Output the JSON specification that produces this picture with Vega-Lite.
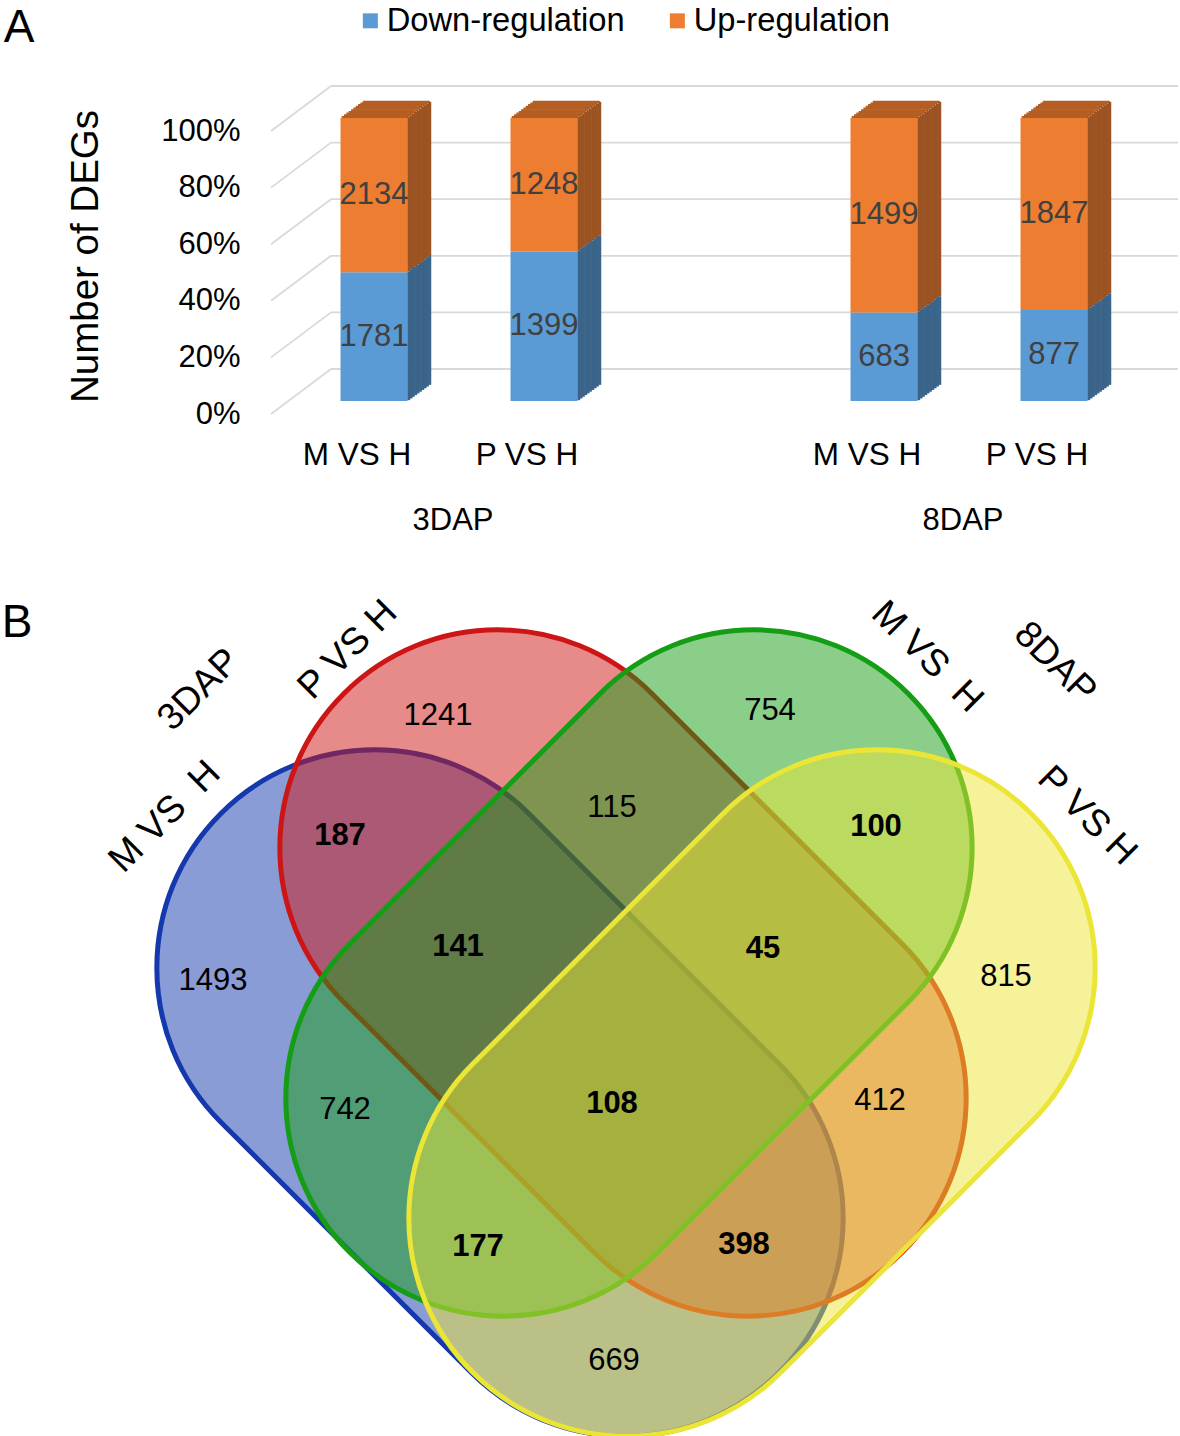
{
  "$schema": "https://vega.github.io/schema/vega-lite/v6.json",
  "width": 1180,
  "height": 1436,
  "padding": 0,
  "autosize": {"type": "pad"},
  "background": "white",
  "config": {"view": {"stroke": null}, "font": "Liberation Sans"},
  "projection": {"type": "identity", "reflectY": true, "scale": 10, "translate": [626, 973]},
  "datasets": {
    "bars": [
      {"stage": "3DAP", "comp": "M VS H", "key": "3DAP|M VS H", "dir": "Down-regulation", "count": 1781},
      {"stage": "3DAP", "comp": "M VS H", "key": "3DAP|M VS H", "dir": "Up-regulation", "count": 2134},
      {"stage": "3DAP", "comp": "P VS H", "key": "3DAP|P VS H", "dir": "Down-regulation", "count": 1399},
      {"stage": "3DAP", "comp": "P VS H", "key": "3DAP|P VS H", "dir": "Up-regulation", "count": 1248},
      {"stage": "8DAP", "comp": "M VS H", "key": "8DAP|M VS H", "dir": "Down-regulation", "count": 683},
      {"stage": "8DAP", "comp": "M VS H", "key": "8DAP|M VS H", "dir": "Up-regulation", "count": 1499},
      {"stage": "8DAP", "comp": "P VS H", "key": "8DAP|P VS H", "dir": "Down-regulation", "count": 877},
      {"stage": "8DAP", "comp": "P VS H", "key": "8DAP|P VS H", "dir": "Up-regulation", "count": 1847}
    ],
    "ticks": [{"v": 0}, {"v": 0.2}, {"v": 0.4}, {"v": 0.6}, {"v": 0.8}, {"v": 1}],
    "sets": [
      {"set": "M3", "stage": "3DAP", "comp": "M VS H", "cx": -12.6, "cy": -12.0},
      {"set": "P3", "stage": "3DAP", "comp": "P VS H", "cx": -0.3, "cy": 0},
      {"set": "M8", "stage": "8DAP", "comp": "M VS H", "cx": 0.3, "cy": 0},
      {"set": "P8", "stage": "8DAP", "comp": "P VS H", "cx": 12.6, "cy": -12.0}
    ],
    "regions": [
      {"n": 1241, "sets": "P3", "x": -18.8, "y": 25.7},
      {"n": 754, "sets": "M8", "x": 14.4, "y": 26.2},
      {"n": 115, "sets": "P3,M8", "x": -1.4, "y": 16.5},
      {"n": 187, "sets": "M3,P3", "x": -28.6, "y": 13.7},
      {"n": 100, "sets": "M8,P8", "x": 25.0, "y": 14.6},
      {"n": 141, "sets": "M3,P3,M8", "x": -16.8, "y": 2.6},
      {"n": 45, "sets": "P3,M8,P8", "x": 13.7, "y": 2.4},
      {"n": 1493, "sets": "M3", "x": -41.3, "y": -0.8},
      {"n": 815, "sets": "P8", "x": 38.0, "y": -0.4},
      {"n": 742, "sets": "M3,M8", "x": -28.1, "y": -13.7},
      {"n": 108, "sets": "M3,P3,M8,P8", "x": -1.4, "y": -13.1},
      {"n": 412, "sets": "P3,P8", "x": 25.4, "y": -12.8},
      {"n": 177, "sets": "M3,M8,P8", "x": -14.8, "y": -27.4},
      {"n": 398, "sets": "M3,P3,P8", "x": 11.8, "y": -27.2},
      {"n": 669, "sets": "M3,P8", "x": -1.2, "y": -38.8}
    ],
    "setlabels": [
      {"label": "M VS\u00a0 H", "stage": "3DAP", "x": -46.1, "y": 15.6},
      {"label": "3DAP", "stage": "3DAP", "x": -42.7, "y": 28.3},
      {"label": "P VS H", "stage": "3DAP", "x": -27.8, "y": 32.3},
      {"label": "M VS\u00a0 H", "stage": "8DAP", "x": 30.1, "y": 31.6},
      {"label": "8DAP", "stage": "8DAP", "x": 42.9, "y": 31.0},
      {"label": "P VS H", "stage": "8DAP", "x": 46.1, "y": 15.7}
    ],
    "panels": [
      {"panel": "A", "x": -60.7, "y": 93.1},
      {"panel": "B", "x": -60.9, "y": 33.6}
    ]
  },
  "layer": [
    {"data": {"name": "ticks"}, "mark": {"type": "rule", "color": "#D9D9D9", "strokeWidth": 1.8, "xOffset": 42, "x2Offset": 39, "yOffset": -32},
     "encoding": {"x": {"datum": "3DAP|M VS H", "type": "nominal", "bandPosition": 0}, "x2": {"datum": "8DAP|P VS H", "bandPosition": 1}, "y": {"field": "v", "type": "quantitative"}}},
    {"data": {"name": "ticks"}, "mark": {"type": "rule", "color": "#D9D9D9", "strokeWidth": 1.8, "xOffset": -18, "x2Offset": 42, "yOffset": 13, "y2Offset": -32},
     "encoding": {"x": {"datum": "3DAP|M VS H", "type": "nominal", "bandPosition": 0}, "x2": {"datum": "3DAP|M VS H", "bandPosition": 0}, "y": {"field": "v", "type": "quantitative"}, "y2": {"field": "v"}}},

    {"data": {"name": "bars"}, "transform": [{"filter": "datum.dir == 'Up-regulation'"}], "mark": {"type": "bar", "width": 67, "color": "#B45E24", "xOffset": 1.17, "yOffset": -2.0, "y2Offset": 0.3}, "encoding": {"x": {"field": "key", "type": "nominal"}, "y": {"datum": 1, "type": "quantitative"}, "y2": {"datum": 1}}},
    {"data": {"name": "bars"}, "transform": [{"filter": "datum.dir == 'Up-regulation'"}], "mark": {"type": "bar", "width": 67, "color": "#B45E24", "xOffset": 3.51, "yOffset": -3.7, "y2Offset": -1.4}, "encoding": {"x": {"field": "key", "type": "nominal"}, "y": {"datum": 1, "type": "quantitative"}, "y2": {"datum": 1}}},
    {"data": {"name": "bars"}, "transform": [{"filter": "datum.dir == 'Up-regulation'"}], "mark": {"type": "bar", "width": 67, "color": "#B45E24", "xOffset": 5.85, "yOffset": -5.4, "y2Offset": -3.1}, "encoding": {"x": {"field": "key", "type": "nominal"}, "y": {"datum": 1, "type": "quantitative"}, "y2": {"datum": 1}}},
    {"data": {"name": "bars"}, "transform": [{"filter": "datum.dir == 'Up-regulation'"}], "mark": {"type": "bar", "width": 67, "color": "#B45E24", "xOffset": 8.19, "yOffset": -7.1, "y2Offset": -4.8}, "encoding": {"x": {"field": "key", "type": "nominal"}, "y": {"datum": 1, "type": "quantitative"}, "y2": {"datum": 1}}},
    {"data": {"name": "bars"}, "transform": [{"filter": "datum.dir == 'Up-regulation'"}], "mark": {"type": "bar", "width": 67, "color": "#B45E24", "xOffset": 10.53, "yOffset": -8.8, "y2Offset": -6.5}, "encoding": {"x": {"field": "key", "type": "nominal"}, "y": {"datum": 1, "type": "quantitative"}, "y2": {"datum": 1}}},
    {"data": {"name": "bars"}, "transform": [{"filter": "datum.dir == 'Up-regulation'"}], "mark": {"type": "bar", "width": 67, "color": "#B45E24", "xOffset": 12.87, "yOffset": -10.5, "y2Offset": -8.2}, "encoding": {"x": {"field": "key", "type": "nominal"}, "y": {"datum": 1, "type": "quantitative"}, "y2": {"datum": 1}}},
    {"data": {"name": "bars"}, "transform": [{"filter": "datum.dir == 'Up-regulation'"}], "mark": {"type": "bar", "width": 67, "color": "#B45E24", "xOffset": 15.21, "yOffset": -12.2, "y2Offset": -9.9}, "encoding": {"x": {"field": "key", "type": "nominal"}, "y": {"datum": 1, "type": "quantitative"}, "y2": {"datum": 1}}},
    {"data": {"name": "bars"}, "transform": [{"filter": "datum.dir == 'Up-regulation'"}], "mark": {"type": "bar", "width": 67, "color": "#B45E24", "xOffset": 17.55, "yOffset": -13.9, "y2Offset": -11.6}, "encoding": {"x": {"field": "key", "type": "nominal"}, "y": {"datum": 1, "type": "quantitative"}, "y2": {"datum": 1}}},
    {"data": {"name": "bars"}, "transform": [{"filter": "datum.dir == 'Up-regulation'"}], "mark": {"type": "bar", "width": 67, "color": "#B45E24", "xOffset": 19.89, "yOffset": -15.6, "y2Offset": -13.3}, "encoding": {"x": {"field": "key", "type": "nominal"}, "y": {"datum": 1, "type": "quantitative"}, "y2": {"datum": 1}}},
    {"data": {"name": "bars"}, "transform": [{"filter": "datum.dir == 'Up-regulation'"}], "mark": {"type": "bar", "width": 67, "color": "#B45E24", "xOffset": 22.23, "yOffset": -17.3, "y2Offset": -15.0}, "encoding": {"x": {"field": "key", "type": "nominal"}, "y": {"datum": 1, "type": "quantitative"}, "y2": {"datum": 1}}},

    {"data": {"name": "bars"}, "mark": {"type": "bar", "width": 3, "xOffset": 34.67, "yOffset": -0.85, "y2Offset": -0.85}, "encoding": {"x": {"field": "key", "type": "nominal"}, "y": {"field": "count", "type": "quantitative", "stack": "normalize"}, "order": {"field": "dir", "type": "nominal", "sort": "ascending"}, "fill": {"field": "dir", "type": "nominal", "scale": {"range": ["#3A6489", "#9C5322"]}, "legend": null}}},
    {"data": {"name": "bars"}, "mark": {"type": "bar", "width": 3, "xOffset": 37.01, "yOffset": -2.55, "y2Offset": -2.55}, "encoding": {"x": {"field": "key", "type": "nominal"}, "y": {"field": "count", "type": "quantitative", "stack": "normalize"}, "order": {"field": "dir", "type": "nominal", "sort": "ascending"}, "fill": {"field": "dir", "type": "nominal", "legend": null}}},
    {"data": {"name": "bars"}, "mark": {"type": "bar", "width": 3, "xOffset": 39.35, "yOffset": -4.25, "y2Offset": -4.25}, "encoding": {"x": {"field": "key", "type": "nominal"}, "y": {"field": "count", "type": "quantitative", "stack": "normalize"}, "order": {"field": "dir", "type": "nominal", "sort": "ascending"}, "fill": {"field": "dir", "type": "nominal", "legend": null}}},
    {"data": {"name": "bars"}, "mark": {"type": "bar", "width": 3, "xOffset": 41.69, "yOffset": -5.95, "y2Offset": -5.95}, "encoding": {"x": {"field": "key", "type": "nominal"}, "y": {"field": "count", "type": "quantitative", "stack": "normalize"}, "order": {"field": "dir", "type": "nominal", "sort": "ascending"}, "fill": {"field": "dir", "type": "nominal", "legend": null}}},
    {"data": {"name": "bars"}, "mark": {"type": "bar", "width": 3, "xOffset": 44.03, "yOffset": -7.65, "y2Offset": -7.65}, "encoding": {"x": {"field": "key", "type": "nominal"}, "y": {"field": "count", "type": "quantitative", "stack": "normalize"}, "order": {"field": "dir", "type": "nominal", "sort": "ascending"}, "fill": {"field": "dir", "type": "nominal", "legend": null}}},
    {"data": {"name": "bars"}, "mark": {"type": "bar", "width": 3, "xOffset": 46.37, "yOffset": -9.35, "y2Offset": -9.35}, "encoding": {"x": {"field": "key", "type": "nominal"}, "y": {"field": "count", "type": "quantitative", "stack": "normalize"}, "order": {"field": "dir", "type": "nominal", "sort": "ascending"}, "fill": {"field": "dir", "type": "nominal", "legend": null}}},
    {"data": {"name": "bars"}, "mark": {"type": "bar", "width": 3, "xOffset": 48.71, "yOffset": -11.05, "y2Offset": -11.05}, "encoding": {"x": {"field": "key", "type": "nominal"}, "y": {"field": "count", "type": "quantitative", "stack": "normalize"}, "order": {"field": "dir", "type": "nominal", "sort": "ascending"}, "fill": {"field": "dir", "type": "nominal", "legend": null}}},
    {"data": {"name": "bars"}, "mark": {"type": "bar", "width": 3, "xOffset": 51.05, "yOffset": -12.75, "y2Offset": -12.75}, "encoding": {"x": {"field": "key", "type": "nominal"}, "y": {"field": "count", "type": "quantitative", "stack": "normalize"}, "order": {"field": "dir", "type": "nominal", "sort": "ascending"}, "fill": {"field": "dir", "type": "nominal", "legend": null}}},
    {"data": {"name": "bars"}, "mark": {"type": "bar", "width": 3, "xOffset": 53.39, "yOffset": -14.45, "y2Offset": -14.45}, "encoding": {"x": {"field": "key", "type": "nominal"}, "y": {"field": "count", "type": "quantitative", "stack": "normalize"}, "order": {"field": "dir", "type": "nominal", "sort": "ascending"}, "fill": {"field": "dir", "type": "nominal", "legend": null}}},
    {"data": {"name": "bars"}, "mark": {"type": "bar", "width": 3, "xOffset": 55.73, "yOffset": -16.15, "y2Offset": -16.15}, "encoding": {"x": {"field": "key", "type": "nominal"}, "y": {"field": "count", "type": "quantitative", "stack": "normalize"}, "order": {"field": "dir", "type": "nominal", "sort": "ascending"}, "fill": {"field": "dir", "type": "nominal", "legend": null}}},

    {"data": {"name": "bars"}, "mark": {"type": "bar", "width": 67},
     "encoding": {
       "x": {"field": "key", "type": "nominal", "sort": null,
             "scale": {"domain": ["3DAP|M VS H", "3DAP|P VS H", "gap", "8DAP|M VS H", "8DAP|P VS H"], "paddingInner": 0, "paddingOuter": 0.97059, "align": 0.8758},
             "axis": {"orient": "bottom", "offset": -1035, "bandPosition": 0.5, "title": null, "domain": false, "ticks": false, "tickSize": 0, "grid": false, "labelAngle": 0, "labelAlign": "center", "labelFontSize": 31.5, "labelColor": "#000000", "labelPadding": 54, "labelOffset": -17, "labelExpr": "indexof(datum.value, '|') > 0 ? split(datum.value, '|')[1] : ''"}},
       "y": {"field": "count", "type": "quantitative", "stack": "normalize",
             "scale": {"domain": [-3.6572, 1.41696], "nice": false, "zero": false},
             "axis": {"orient": "left", "offset": -271, "values": [0, 0.2, 0.4, 0.6, 0.8, 1], "format": ".0%", "domain": false, "ticks": false, "tickSize": 0, "grid": false, "labelFontSize": 31, "labelColor": "#000000", "labelPadding": 31, "labelOffset": 13, "title": "Number of DEGs", "titleFontSize": 38.5, "titleFontWeight": "normal", "titleColor": "#000000", "titleAngle": -90, "titleBaseline": "middle", "titleAlign": "center", "titleX": -186, "titleY": 256}},
       "order": {"field": "dir", "type": "nominal", "sort": "ascending"},
       "color": {"field": "dir", "type": "nominal",
                 "scale": {"domain": ["Down-regulation", "Up-regulation"], "range": ["#5B9BD5", "#ED7D31"]},
                 "legend": {"orient": "none", "legendX": 354, "legendY": 4, "direction": "horizontal", "title": null, "symbolType": "square", "symbolSize": 225, "symbolStrokeWidth": 0, "labelFontSize": 32.7, "labelLimit": 600, "labelColor": "#000000", "labelOffset": 0, "columnPadding": 36}}
     }},
    {"data": {"name": "bars"}, "mark": {"type": "text", "fontSize": 31, "color": "#404040", "baseline": "middle", "align": "center"},
     "encoding": {"x": {"field": "key", "type": "nominal"}, "y": {"field": "count", "type": "quantitative", "stack": "normalize", "bandPosition": 0.5}, "order": {"field": "dir", "type": "nominal", "sort": "ascending"}, "detail": {"field": "dir"}, "text": {"field": "count", "type": "quantitative", "format": "d"}}},
    {"data": {"name": "bars"}, "transform": [{"filter": "datum.comp == 'M VS H' && datum.dir == 'Up-regulation'"}],
     "mark": {"type": "text", "fontSize": 31, "color": "#000000", "xOffset": 79, "yOffset": 120, "baseline": "middle", "align": "center"},
     "encoding": {"x": {"field": "key", "type": "nominal"}, "y": {"datum": 0, "type": "quantitative"}, "text": {"field": "stage"}}},

    {"data": {"name": "sets"}, "transform": [{"filter": "datum.set == 'M3'"}],
     "mark": {"type": "point", "shape": "M -0.4481 -0.5519 L 0.4481 -0.5519 A 0.5519 0.5519 0 0 1 0.4481 0.5519 L -0.4481 0.5519 A 0.5519 0.5519 0 0 1 -0.4481 -0.5519 Z", "size": 624100, "angle": 45, "filled": true, "fill": "#1539AD", "fillOpacity": 0.5, "stroke": "#1539AD", "strokeWidth": 5, "strokeOpacity": 1, "opacity": 1, "clip": true},
     "encoding": {"longitude": {"field": "cx", "type": "quantitative"}, "latitude": {"field": "cy", "type": "quantitative"}}},
    {"data": {"name": "sets"}, "transform": [{"filter": "datum.set == 'P3'"}],
     "mark": {"type": "point", "shape": "M -0.4481 -0.5519 L 0.4481 -0.5519 A 0.5519 0.5519 0 0 1 0.4481 0.5519 L -0.4481 0.5519 A 0.5519 0.5519 0 0 1 -0.4481 -0.5519 Z", "size": 624100, "angle": 45, "filled": true, "fill": "#CD1515", "fillOpacity": 0.5, "stroke": "#CD1515", "strokeWidth": 5, "strokeOpacity": 1, "opacity": 1, "clip": true},
     "encoding": {"longitude": {"field": "cx", "type": "quantitative"}, "latitude": {"field": "cy", "type": "quantitative"}}},
    {"data": {"name": "sets"}, "transform": [{"filter": "datum.set == 'M8'"}],
     "mark": {"type": "point", "shape": "M -0.4481 -0.5519 L 0.4481 -0.5519 A 0.5519 0.5519 0 0 1 0.4481 0.5519 L -0.4481 0.5519 A 0.5519 0.5519 0 0 1 -0.4481 -0.5519 Z", "size": 624100, "angle": -45, "filled": true, "fill": "#159D15", "fillOpacity": 0.5, "stroke": "#159D15", "strokeWidth": 5, "strokeOpacity": 1, "opacity": 1, "clip": true},
     "encoding": {"longitude": {"field": "cx", "type": "quantitative"}, "latitude": {"field": "cy", "type": "quantitative"}}},
    {"data": {"name": "sets"}, "transform": [{"filter": "datum.set == 'P8'"}],
     "mark": {"type": "point", "shape": "M -0.4481 -0.5519 L 0.4481 -0.5519 A 0.5519 0.5519 0 0 1 0.4481 0.5519 L -0.4481 0.5519 A 0.5519 0.5519 0 0 1 -0.4481 -0.5519 Z", "size": 624100, "angle": -45, "filled": true, "fill": "#EBE535", "fillOpacity": 0.5, "stroke": "#EBE535", "strokeWidth": 5, "strokeOpacity": 1, "opacity": 1, "clip": true},
     "encoding": {"longitude": {"field": "cx", "type": "quantitative"}, "latitude": {"field": "cy", "type": "quantitative"}}},
    {"data": {"name": "regions"}, "transform": [{"filter": "!((indexof(datum.sets,'M3')>=0 && indexof(datum.sets,'P3')>=0) || (indexof(datum.sets,'M8')>=0 && indexof(datum.sets,'P8')>=0))"}],
     "mark": {"type": "text", "fontSize": 31, "color": "#000000", "align": "center", "baseline": "middle"},
     "encoding": {"longitude": {"field": "x", "type": "quantitative"}, "latitude": {"field": "y", "type": "quantitative"}, "text": {"field": "n", "type": "quantitative", "format": "d"}}},
    {"data": {"name": "regions"}, "transform": [{"filter": "(indexof(datum.sets,'M3')>=0 && indexof(datum.sets,'P3')>=0) || (indexof(datum.sets,'M8')>=0 && indexof(datum.sets,'P8')>=0)"}],
     "mark": {"type": "text", "fontSize": 31, "fontWeight": "bold", "color": "#000000", "align": "center", "baseline": "middle"},
     "encoding": {"longitude": {"field": "x", "type": "quantitative"}, "latitude": {"field": "y", "type": "quantitative"}, "text": {"field": "n", "type": "quantitative", "format": "d"}}},
    {"data": {"name": "setlabels"}, "transform": [{"filter": "datum.stage == '3DAP'"}],
     "mark": {"type": "text", "fontSize": 37.5, "color": "#000000", "align": "center", "baseline": "middle", "angle": -45},
     "encoding": {"longitude": {"field": "x", "type": "quantitative"}, "latitude": {"field": "y", "type": "quantitative"}, "text": {"field": "label"}}},
    {"data": {"name": "setlabels"}, "transform": [{"filter": "datum.stage == '8DAP'"}],
     "mark": {"type": "text", "fontSize": 37.5, "color": "#000000", "align": "center", "baseline": "middle", "angle": 45},
     "encoding": {"longitude": {"field": "x", "type": "quantitative"}, "latitude": {"field": "y", "type": "quantitative"}, "text": {"field": "label"}}},
    {"data": {"name": "panels"},
     "mark": {"type": "text", "fontSize": 46, "color": "#000000", "align": "center", "baseline": "alphabetic"},
     "encoding": {"longitude": {"field": "x", "type": "quantitative"}, "latitude": {"field": "y", "type": "quantitative"}, "text": {"field": "panel"}}}
  ]
}
